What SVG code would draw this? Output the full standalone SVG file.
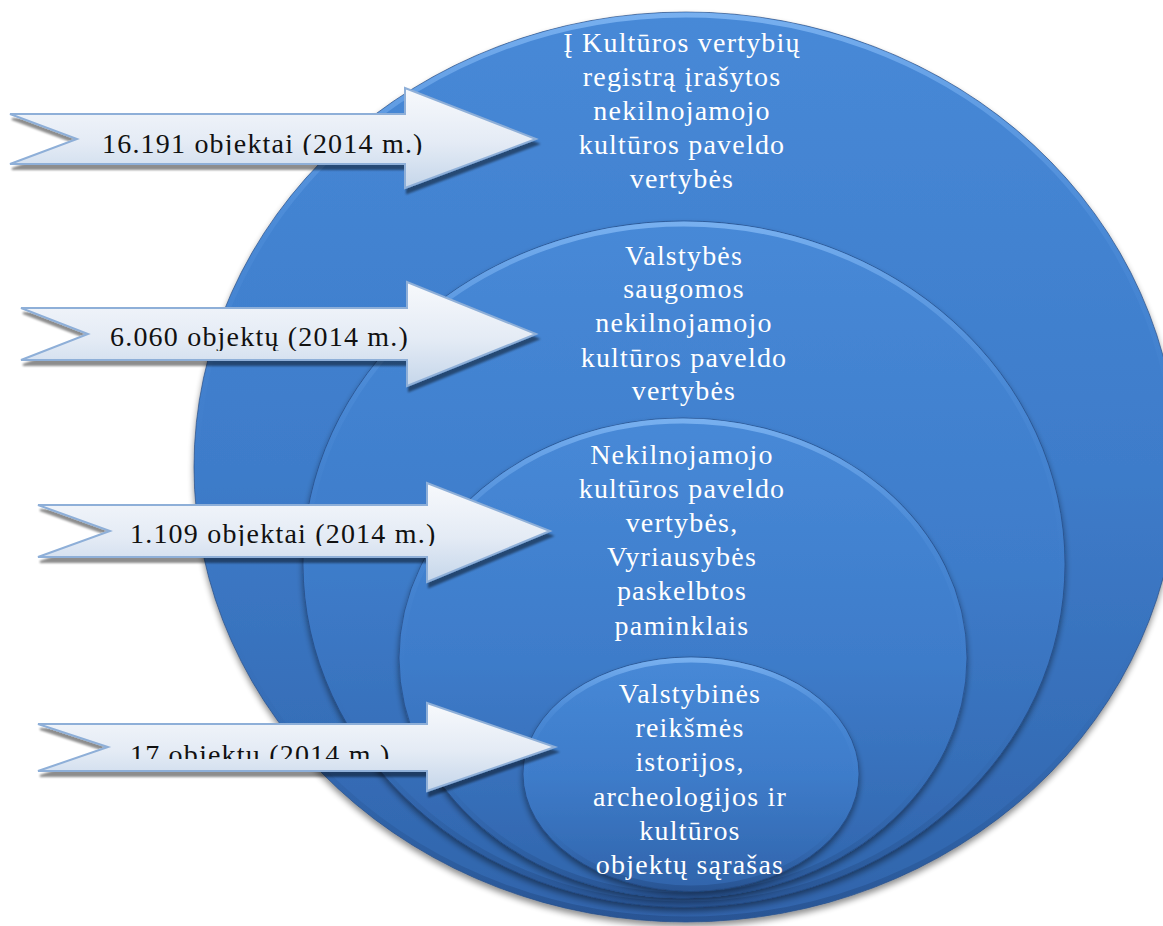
<svg xmlns="http://www.w3.org/2000/svg" width="1163" height="926" viewBox="0 0 1163 926">
<style>
.ell{stroke:#23467a;stroke-width:0.8;stroke-opacity:0.8}
.bev{fill:none;stroke:url(#bevel);stroke-width:5}
.lbl{font-family:"Liberation Serif","Times New Roman",serif;font-size:28px;letter-spacing:1.2px;fill:#ffffff;text-anchor:middle}
.arr{fill:url(#arrFill);stroke:#8eafd8;stroke-width:2;stroke-linejoin:miter}
.atx{font-family:"Liberation Serif","Times New Roman",serif;font-size:28px;letter-spacing:1.2px;fill:#111111}
</style>
<defs>
<linearGradient id="blue" x1="0" y1="0" x2="0" y2="1">
<stop offset="0" stop-color="#4789d7"/>
<stop offset="0.5" stop-color="#3e7cca"/>
<stop offset="1" stop-color="#3064ab"/>
</linearGradient>
<linearGradient id="bevel" x1="0" y1="0" x2="0" y2="1">
<stop offset="0" stop-color="#7db4f2" stop-opacity="0.9"/>
<stop offset="0.25" stop-color="#5a97e0" stop-opacity="0.3"/>
<stop offset="0.6" stop-color="#3e7cca" stop-opacity="0"/>
<stop offset="1" stop-color="#20467e" stop-opacity="0.5"/>
</linearGradient>
<linearGradient id="arrFill" x1="0" y1="0" x2="0" y2="1">
<stop offset="0" stop-color="#f7f9fc"/>
<stop offset="0.55" stop-color="#e4ebf5"/>
<stop offset="1" stop-color="#c5d6ea"/>
</linearGradient>
<filter id="esh" x="-10%" y="-10%" width="120%" height="125%">
<feGaussianBlur in="SourceAlpha" stdDeviation="3"/>
<feOffset dx="0" dy="4" result="b"/>
<feComponentTransfer><feFuncA type="linear" slope="0.45"/></feComponentTransfer>
<feMerge><feMergeNode/><feMergeNode in="SourceGraphic"/></feMerge>
</filter>
<filter id="ash" x="-5%" y="-10%" width="110%" height="130%">
<feOffset in="SourceAlpha" dx="2" dy="5"/>
<feGaussianBlur stdDeviation="1.2"/>
<feComponentTransfer><feFuncA type="linear" slope="0.45"/></feComponentTransfer>
<feMerge><feMergeNode/><feMergeNode in="SourceGraphic"/></feMerge>
</filter>
<clipPath id="c1"><rect x="0" y="100" width="560" height="55"/></clipPath>
<clipPath id="c2"><rect x="0" y="295" width="560" height="56"/></clipPath>
<clipPath id="c3"><rect x="0" y="495" width="560" height="51"/></clipPath>
<clipPath id="c4"><rect x="0" y="715" width="560" height="44"/></clipPath>
</defs>
<rect width="1163" height="926" fill="#ffffff"/>

<g id="ellipse1">
<ellipse class="ell" cx="686" cy="467" rx="492" ry="455" fill="url(#blue)" filter="url(#esh)"/>
<ellipse class="bev" cx="686" cy="467" rx="489" ry="452"/>
<text class="lbl" x="682" y="52">Į Kultūros vertybių</text>
<text class="lbl" x="682" y="86">registrą įrašytos</text>
<text class="lbl" x="682" y="120">nekilnojamojo</text>
<text class="lbl" x="682" y="154">kultūros paveldo</text>
<text class="lbl" x="682" y="188">vertybės</text>
</g>
<g id="ellipse2">
<ellipse class="ell" cx="684" cy="564" rx="381" ry="343" fill="url(#blue)" filter="url(#esh)"/>
<ellipse class="bev" cx="684" cy="564" rx="378" ry="340"/>
<text class="lbl" x="684" y="265">Valstybės</text>
<text class="lbl" x="684" y="298">saugomos</text>
<text class="lbl" x="684" y="332">nekilnojamojo</text>
<text class="lbl" x="684" y="367">kultūros paveldo</text>
<text class="lbl" x="684" y="400">vertybės</text>
</g>
<g id="ellipse3">
<ellipse class="ell" cx="683" cy="658" rx="284" ry="240" fill="url(#blue)" filter="url(#esh)"/>
<ellipse class="bev" cx="683" cy="658" rx="281" ry="237"/>
<text class="lbl" x="682" y="464">Nekilnojamojo</text>
<text class="lbl" x="682" y="498">kultūros paveldo</text>
<text class="lbl" x="682" y="532">vertybės,</text>
<text class="lbl" x="682" y="566">Vyriausybės</text>
<text class="lbl" x="682" y="600">paskelbtos</text>
<text class="lbl" x="682" y="635">paminklais</text>
</g>
<g id="ellipse4">
<ellipse class="ell" cx="691" cy="774" rx="168" ry="117" fill="url(#blue)" filter="url(#esh)"/>
<ellipse class="bev" cx="691" cy="774" rx="165" ry="114"/>
<text class="lbl" x="690" y="703">Valstybinės</text>
<text class="lbl" x="690" y="737">reikšmės</text>
<text class="lbl" x="690" y="771">istorijos,</text>
<text class="lbl" x="690" y="806">archeologijos ir</text>
<text class="lbl" x="690" y="840">kultūros</text>
<text class="lbl" x="690" y="874">objektų sąrašas</text>
</g>

<g id="arrow1">
<path class="arr" filter="url(#ash)" d="M10,114 L405,114 L405,88 L536,139 L405,188 L405,164 L10,164 L77,139 Z"/>
<text class="atx" x="102" y="153" clip-path="url(#c1)">16.191 objektai (2014 m.)</text>
</g>
<g id="arrow2">
<path class="arr" filter="url(#ash)" d="M21,308 L407,308 L407,282 L536,334 L407,386 L407,360 L21,360 L88,334 Z"/>
<text class="atx" x="110" y="346" clip-path="url(#c2)">6.060 objektų (2014 m.)</text>
</g>
<g id="arrow3">
<path class="arr" filter="url(#ash)" d="M38,505 L427,505 L427,483 L550,531 L427,582 L427,557 L38,557 L110,531 Z"/>
<text class="atx" x="130" y="543" clip-path="url(#c3)">1.109 objektai (2014 m.)</text>
</g>
<g id="arrow4">
<path class="arr" filter="url(#ash)" d="M38,724 L427,724 L427,703 L555,747 L427,791 L427,771 L38,771 L108,747 Z"/>
<text class="atx" x="130" y="764" clip-path="url(#c4)">17 objektų (2014 m.)</text>
</g>
</svg>
